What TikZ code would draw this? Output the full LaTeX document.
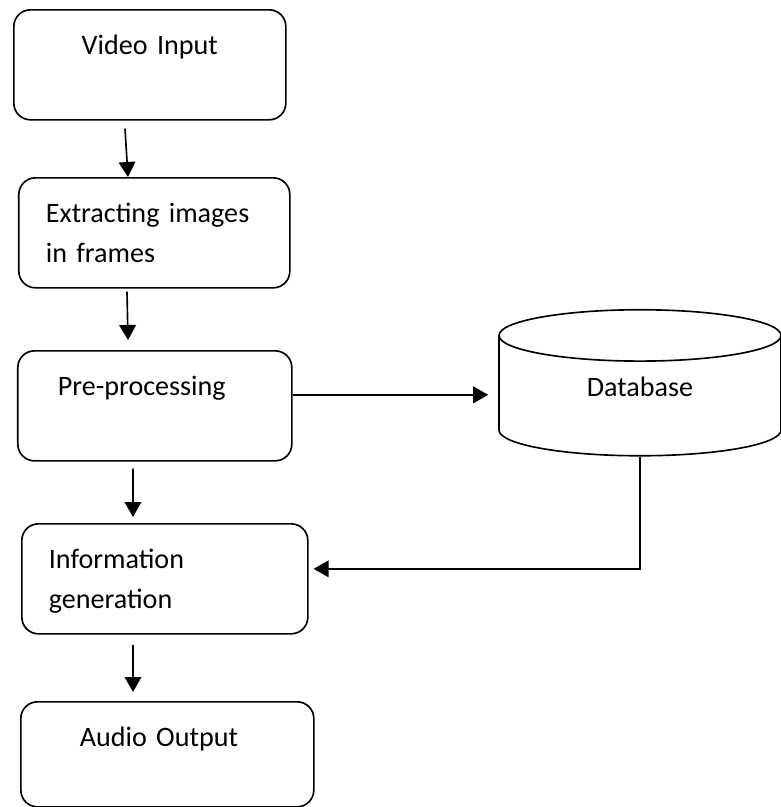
\documentclass[tikz,border=0pt]{standalone}
\usepackage{fontspec}
\setmainfont{Carlito}
\usetikzlibrary{arrows.meta,calc,shapes.geometric}

\begin{document}
\begin{tikzpicture}[
  font=\fontsize{24}{34}\selectfont,
  procbox/.style={draw,rounded corners=.5cm,line width=1.4pt,anchor=north west,align=left,inner ysep=0pt,text height=1.35cm,text depth=1.95cm},
  store/.style={draw,cylinder,shape border rotate=90,aspect=.45,line width=1.4pt,minimum width=8.46cm,minimum height=4.38cm,text height=.32cm,text depth=.48cm},
  flow/.style={-{Triangle[length=.45cm,width=.5cm]},line width=1.4pt}
]
\useasboundingbox (0,0) rectangle (23.4,-24.21);

\node[procbox,align=center,inner xsep=0pt,text width=8.16cm] (vid) at (.39,-.27) {Video Input};
\node[procbox,inner xsep=.81cm,text width=6.51cm] (ext) at (.54,-5.31) {Extracting images\\in frames};
\node[procbox,inner xsep=1.2cm,text width=5.82cm] (pre) at (.51,-10.50) {Pre-processing};
\node[procbox,inner xsep=.81cm,text width=6.96cm] (info) at (.63,-15.69) {Information\\generation};
\node[procbox,inner xsep=1.77cm,text width=5.25cm,text depth=1.8cm] (audio) at (.60,-21.03) {Audio Output};

\node[store] (db) at (19.2,-11.97) {Database};

\draw[flow] ($(vid.south west)+(3.36,-.24)$) -- ($(ext.north west)+(3.30,0)$);
\draw[flow] ($(ext.south west)+(3.27,-.09)$) -- ($(pre.north west)+(3.33,.30)$);
\draw[flow] ($(pre.south west)+(3.48,-.21)$) -- ($(info.north west)+(3.36,.18)$);
\draw[flow] ($(info.south west)+(3.36,-.30)$) -- ($(audio.north west)+(3.39,.27)$);

\path ([yshift=.33cm]pre.east) coordinate (pdout);
\draw[flow,shorten >=.3cm] (pdout) -- (pdout -| db.west);
\draw[flow,shorten >=.15cm] (db.south) |- ([yshift=.3cm]info.east);
\end{tikzpicture}
\end{document}
